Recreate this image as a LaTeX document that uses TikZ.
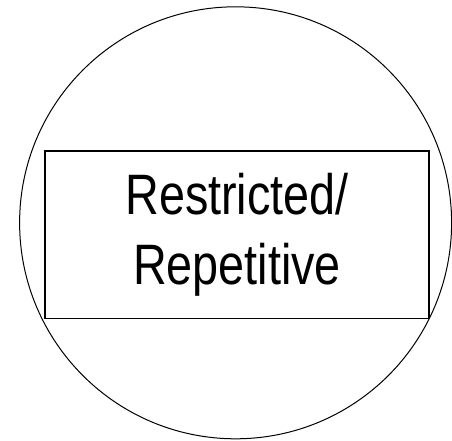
\documentclass[tikz,border=0pt]{standalone}
\usepackage{fontspec}
\newfontfamily\narrowfont{Liberation Sans}[FakeStretch=0.82]
\usepackage{tikz}
\usetikzlibrary{positioning}

\begin{document}
\begin{tikzpicture}[
    x=1pt, y=-1pt,
    region/.style={circle, draw=black, line width=1pt, minimum size=432pt, inner sep=0pt},
    category/.style={rectangle, draw=black, line width=1.6pt, minimum width=384pt, minimum height=167.5pt,
        align=center, font=\narrowfont\fontsize{57}{70}\selectfont},
]
    \useasboundingbox (0,0) rectangle (452,440);

    % Outer circle
    \node[region] (region) at (235.6,222.8) {};

    % Inner label box
    \node[category] (restricted) at (237,234.7) {Restricted/\\Repetitive};
\end{tikzpicture}
\end{document}
